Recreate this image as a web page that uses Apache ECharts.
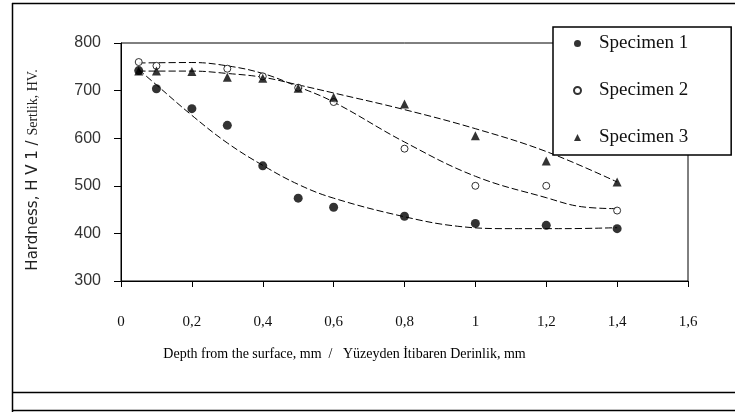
<!DOCTYPE html>
<html>
<head>
<meta charset="utf-8">
<script src="https://cdn.jsdelivr.net/npm/echarts@6/dist/echarts.min.js"></script>
<style>
  html, body { margin: 0; padding: 0; background: #fff; }
  #chart { width: 735px; height: 412px; }
</style>
</head>
<body>
<div id="chart"></div>
<script>
// measured points, depth in mm
const depth = [0.05, 0.1, 0.2, 0.3, 0.4, 0.5, 0.6, 0.8, 1.0, 1.2, 1.4];
const specimen1 = [742, 704, 662, 627, 542, 474, 455, 436, 421, 417, 410];
const specimen2 = [760, 752, null, 746, 730, 706, 676, 578, 500, 500, 448];
const specimen3 = [741, 741, 740, 728, 726, 705, 686, 672, 605, 552, 508];

// trend curves
const trend1X = [0.05, 0.1, 0.2, 0.3, 0.4, 0.5, 0.6, 0.8, 0.95, 1.1, 1.25, 1.4];
const trend1Y = [744, 712, 648, 590, 543, 503, 474, 435, 415, 410, 410, 412];
const trend2X = [0.05, 0.2, 0.3, 0.4, 0.5, 0.6, 0.8, 1.0, 1.2, 1.3, 1.4];
const trend2Y = [758, 759, 752, 736, 708, 676, 592, 520, 475, 456, 452];
const trend3X = [0.05, 0.2, 0.3, 0.4, 0.5, 0.6, 0.8, 1.0, 1.2, 1.4];
const trend3Y = [741, 741, 736, 728, 712, 695, 660, 620, 572, 508];

const names = ['Specimen 1', 'Specimen 2', 'Specimen 3'];
const xTicks = { min: 0, max: 1.6, step: 0.2 };
const yTicks = { min: 300, max: 800, step: 100 };

function pairs(xs, ys) {
  return xs.map((x, i) => [x, ys[i]]).filter(p => p[1] != null);
}

const chart = echarts.init(document.getElementById('chart'), null, { renderer: 'canvas' });

const serif = 'Liberation Serif, DejaVu Serif, serif';
const narrow = 'Liberation Sans Narrow, Liberation Sans, sans-serif';

function trend(xs, ys) {
  return {
    type: 'line',
    data: pairs(xs, ys),
    smooth: 0.4,
    showSymbol: false,
    silent: true,
    lineStyle: { color: '#000', width: 1, type: [7, 3] },
    z: 1
  };
}

const option = {
  animation: false,
  backgroundColor: '#fff',
  grid: {
    left: 121, right: 47, top: 43, bottom: 131,
    show: true, borderColor: '#000', borderWidth: 1
  },
  legend: {
    data: names,
    orient: 'vertical',
    left: 553, top: 27,
    padding: [7, 43, 8, 20],
    itemGap: 28,
    itemWidth: 7, itemHeight: 7,
    borderColor: '#000', borderWidth: 1.5,
    backgroundColor: '#fff',
    textStyle: { fontFamily: serif, fontSize: 19, color: '#111', padding: [0, 0, 0, 13] }
  },
  xAxis: {
    type: 'value',
    min: xTicks.min, max: xTicks.max, interval: xTicks.step,
    name: 'Depth from the surface, mm  /   Yüzeyden İtibaren Derinlik, mm',
    nameLocation: 'middle',
    nameGap: 66,
    nameTextStyle: { fontFamily: serif, fontSize: 14, color: '#000', padding: [0, 120, 0, 0] },
    axisLine: { lineStyle: { color: '#000', width: 1 } },
    axisTick: { length: 6, lineStyle: { color: '#000' } },
    axisLabel: {
      margin: 34,
      fontFamily: serif, fontSize: 15, color: '#111',
      formatter: v => String(Number(v.toFixed(1))).replace('.', ',')
    },
    splitLine: { show: false }
  },
  yAxis: {
    type: 'value',
    min: yTicks.min, max: yTicks.max, interval: yTicks.step,
    name: '{a|Hardness, H V 1 / }{b|Sertlik, HV.}',
    nameLocation: 'middle',
    nameGap: 80,
    nameTextStyle: {
      padding: [0, 16, 0, 0],
      rich: {
        a: { fontFamily: 'DejaVu Sans, sans-serif', fontSize: 15, color: '#222' },
        b: { fontFamily: serif, fontSize: 14, color: '#222' }
      }
    },
    axisLine: { show: true, lineStyle: { color: '#000', width: 1 } },
    axisTick: { show: true, length: 7, lineStyle: { color: '#000' } },
    axisLabel: { margin: 20, fontFamily: narrow, fontSize: 16, color: '#333' },
    splitLine: { show: false }
  },
  series: [
    trend(trend1X, trend1Y),
    trend(trend2X, trend2Y),
    trend(trend3X, trend3Y),
    {
      name: names[0], type: 'scatter', symbol: 'circle', symbolSize: 9,
      data: pairs(depth, specimen1),
      itemStyle: { color: '#000' }, z: 3
    },
    {
      name: names[1], type: 'scatter', symbol: 'circle', symbolSize: 7,
      data: pairs(depth, specimen2),
      itemStyle: { color: '#fff', borderColor: '#000', borderWidth: 1 }, z: 3
    },
    {
      name: names[2], type: 'scatter', symbol: 'triangle', symbolSize: 9,
      data: pairs(depth, specimen3),
      itemStyle: { color: '#000' }, z: 3
    }
  ],
  graphic: [
    { type: 'line', silent: true, shape: { x1: 12, y1: 3.5, x2: 735, y2: 3.5 }, style: { stroke: '#000', lineWidth: 1.5 } },
    { type: 'line', silent: true, shape: { x1: 12.5, y1: 3, x2: 12.5, y2: 412 }, style: { stroke: '#000', lineWidth: 1.5 } },
    { type: 'line', silent: true, shape: { x1: 12, y1: 392.5, x2: 735, y2: 392.5 }, style: { stroke: '#000', lineWidth: 1.5 } },
    { type: 'line', silent: true, shape: { x1: 12, y1: 410.5, x2: 735, y2: 410.5 }, style: { stroke: '#000', lineWidth: 1.5 } }
  ]
};

chart.setOption(option);
</script>
</body>
</html>
